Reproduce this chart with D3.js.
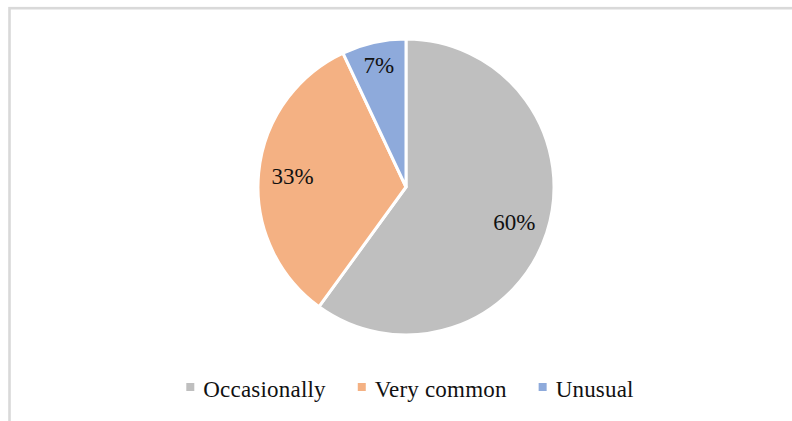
<!DOCTYPE html>
<html>
<head>
<meta charset="utf-8">
<script src="https://cdn.jsdelivr.net/npm/d3@7/dist/d3.min.js"></script>
<style>
  html, body { margin: 0; padding: 0; background: #ffffff; }
  svg { display: block; }
  text { font-family: "Liberation Serif", "Times New Roman", serif; fill: #111111; }
</style>
</head>
<body>
<svg id="chart" width="792" height="421"></svg>
<script>
// Frequency shares
const categories = ["Occasionally", "Very common", "Unusual"];
const shares = [60, 33, 7];
const colors = ["#bfbfbf", "#f4b183", "#8eaadb"];

const width = 792, height = 421;
const svg = d3.select("#chart");

// Chart frame (extends past the right and bottom edges)
svg.append("rect")
  .attr("x", 9.5).attr("y", 8.2)
  .attr("width", 820).attr("height", 440)
  .attr("fill", "none")
  .attr("stroke", "#d9d9d9")
  .attr("stroke-width", 2.6);

const cx = 406, cy = 187, radius = 148;

const data = categories.map((c, i) => ({ name: c, value: shares[i], color: colors[i] }));

const pie = d3.pie().value(d => d.value).sort(null);
const arcs = pie(data);

const arc = d3.arc().innerRadius(0).outerRadius(radius);

const g = svg.append("g").attr("transform", `translate(${cx},${cy})`);

g.selectAll("path.slice")
  .data(arcs)
  .join("path")
  .attr("class", "slice")
  .attr("d", arc)
  .attr("fill", d => d.data.color)
  .attr("stroke", "#ffffff")
  .attr("stroke-width", 3)
  .attr("stroke-linejoin", "round");

// Data labels: small slices get their label pushed nearer the rim
const labelArc = d => {
  const share = d.data.value / d3.sum(shares);
  const r = radius * (share < 0.1 ? 0.84 : 0.77);
  return d3.arc().innerRadius(r).outerRadius(r).centroid(d);
};

g.selectAll("text.label")
  .data(arcs)
  .join("text")
  .attr("class", "label")
  .attr("x", d => labelArc(d)[0])
  .attr("y", d => labelArc(d)[1])
  .attr("text-anchor", "middle")
  .attr("dominant-baseline", "central")
  .attr("font-size", 23)
  .text(d => d.data.value + "%");

// Legend along the bottom, centred
const legend = svg.append("g").attr("class", "legend");
const legendY = 397, sq = 8, sqGap = 9, itemGap = 32;

const items = legend.selectAll("g.item")
  .data(data)
  .join("g")
  .attr("class", "item");

items.append("rect")
  .attr("width", sq).attr("height", sq)
  .attr("y", legendY - 14)
  .attr("fill", d => d.color);

items.append("text")
  .attr("x", sq + sqGap)
  .attr("y", legendY)
  .attr("font-size", 23)
  .attr("letter-spacing", 0.2)
  .text(d => d.name);

let widths = [];
items.each(function() {
  widths.push(sq + sqGap + d3.select(this).select("text").node().getComputedTextLength());
});
const total = d3.sum(widths) + itemGap * (widths.length - 1);
let x = 410 - total / 2;
items.each(function(d, i) {
  d3.select(this).attr("transform", `translate(${x},0)`);
  x += widths[i] + itemGap;
});
</script>
</body>
</html>
